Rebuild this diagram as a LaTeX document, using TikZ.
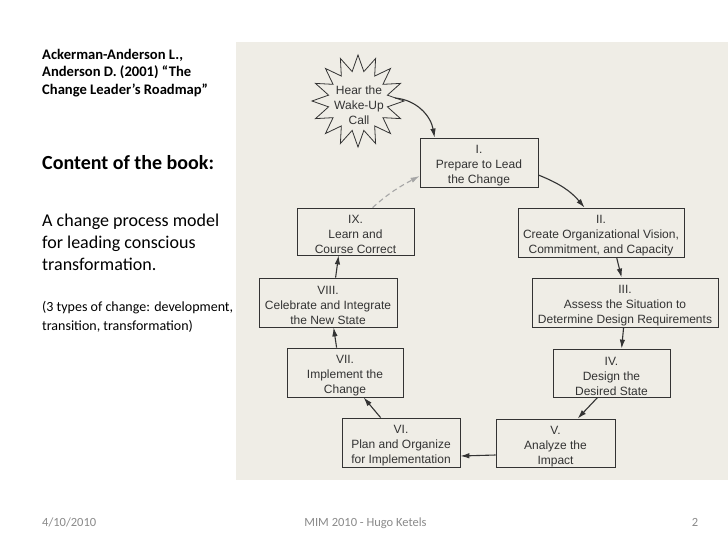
\documentclass[tikz,border=0pt]{standalone}
\usepackage{fontspec}
\setmainfont{Liberation Sans}
\newfontfamily\carlito{Carlito}
\usetikzlibrary{arrows.meta,calc}
\definecolor{scanbg}{HTML}{EFEDE6}
\definecolor{ink}{HTML}{333333}
\definecolor{footgray}{HTML}{8A8A8A}
\newcommand{\topstrut}{\rule{0pt}{14.6pt}}
\tikzset{
  stage/.style={draw=ink, line width=0.8pt, text=ink, align=center, inner sep=0pt,
    minimum height=49pt, font=\fontsize{12}{15}\selectfont},
  flow/.style={draw=ink, line width=1.1pt, -{Latex[length=9pt,width=5.5pt]}},
  backflow/.style={draw=gray!70, line width=1.1pt, dash pattern=on 5pt off 3.5pt,
    -{Latex[length=9pt,width=5.5pt]}},
  lefttext/.style={inner sep=0pt, align=left, text=black},
  foot/.style={inner sep=0pt, text=footgray, font=\carlito\fontsize{12.5}{15}\selectfont}
}
\begin{document}
\begin{tikzpicture}[x=1pt,y=-1pt]
\useasboundingbox (0,0) rectangle (728,546);
\fill[white] (0,0) rectangle (728,546);
\fill[scanbg] (236,42) rectangle (728,480);

% left column text
\node[lefttext, anchor=north west, font=\carlito\bfseries\fontsize{14.6}{17.5}\selectfont] (ref) at (42,49)
  {Ackerman-Anderson L.,\\Anderson D. (2001) “The\\Change Leader’s Roadmap”};
\node[lefttext, anchor=base west, font=\carlito\bfseries\fontsize{20}{24}\selectfont] (content) at (42,169)
  {Content of the book:};
\node[lefttext, anchor=north west, font=\carlito\fontsize{18}{22}\selectfont] (model) at (42,213.5)
  {A change process model\\for leading conscious\\transformation.};
\node[lefttext, anchor=north west, font=\carlito\fontsize{14}{19}\selectfont] (types) at (42,301.5)
  {(3 types of change: development,\\transition, transformation)};

% star
\coordinate (sc) at (358,101);
\draw[ink, line width=0.8pt] ($(sc)+(90:46pt)$)
  \foreach \i in {0,...,15} { -- ($(sc)+({90+\i*22.5+11.25}:30pt)$) -- ($(sc)+({90+(\i+1)*22.5}:46pt)$) } -- cycle;
\node[text=ink, align=center, inner sep=0pt, font=\fontsize{12}{15}\selectfont] (wake) at (359,105)
  {Hear the\\Wake-Up\\Call};

% stages
\node[stage, minimum width=118pt] (b1) at (479,162.5) {\topstrut I.\\Prepare to Lead\\the Change};
\node[stage, minimum width=166pt] (b2) at (601,232.5) {\topstrut II.\\Create Organizational Vision,\\Commitment, and Capacity};
\node[stage, minimum width=186pt] (b3) at (625,302.5) {\topstrut III.\\Assess the Situation to\\Determine Design Requirements};
\node[stage, minimum width=117pt, minimum height=48pt] (b4) at (611.5,373) {\topstrut IV.\\Design the\\Desired State};
\node[stage, minimum width=119pt, minimum height=48pt] (b5) at (555.5,443) {\topstrut V.\\Analyze the\\Impact};
\node[stage, minimum width=118pt] (b6) at (401,442.5) {\topstrut VI.\\Plan and Organize\\for Implementation};
\node[stage, minimum width=116pt] (b7) at (345,372.5) {\topstrut VII.\\Implement the\\Change};
\node[stage, minimum width=138pt] (b8) at (328,302.5) {\topstrut VIII.\\Celebrate and Integrate\\the New State};
\node[stage, minimum width=117pt, minimum height=47pt] (b9) at (355.5,231.5) {\topstrut IX.\\Learn and\\Course Correct};

% connectors
\draw[flow] ([xshift=36pt,yshift=7pt]wake.center) to[out=-5,in=100] ([xshift=15pt]b1.north west);
\draw[flow] ([yshift=-12.5pt]b1.east) to[out=-22,in=130] ([xshift=67pt]b2.north west);
\draw[flow] ([xshift=99pt]b2.south west) -- ([xshift=90pt]b3.north west);
\draw[flow] ([xshift=92pt]b3.south west) -- ([xshift=69pt]b4.north west);
\draw[flow] ([xshift=45pt]b4.south west) -- ([xshift=82pt]b5.north west);
\draw[flow] ([yshift=-12pt]b5.west) -- ([yshift=-13.5pt]b6.east);
\draw[flow] ([xshift=39pt]b6.north west) -- ([xshift=77pt]b7.south west);
\draw[flow] ([xshift=50pt]b7.north west) -- ([xshift=75pt]b8.south west);
\draw[flow] ([xshift=77pt]b8.north west) -- ([xshift=42pt]b9.south west);
\draw[backflow] ([xshift=76pt]b9.north west) to[out=42,in=208] ([yshift=-13.5pt]b1.west);

% footer
\node[foot, anchor=base west] (date) at (42,526) {4/10/2010};
\node[foot, anchor=base] (author) at (365.5,526) {MIM 2010 - Hugo Ketels};
\node[foot, anchor=base] (page) at (695,526) {2};
\end{tikzpicture}
\end{document}
